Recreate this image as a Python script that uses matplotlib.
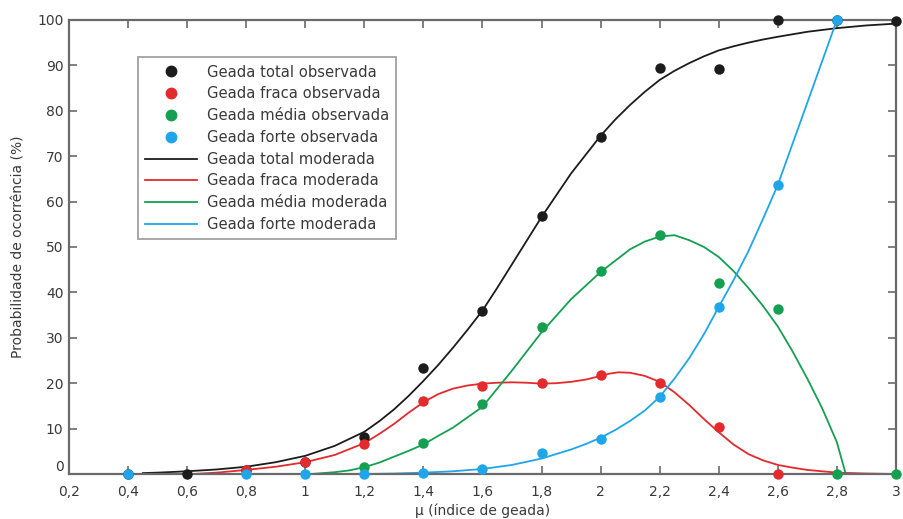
import matplotlib.pyplot as plt
from matplotlib.lines import Line2D
from matplotlib.ticker import FuncFormatter

# observed points
X_TOTAL = [0.4, 0.6, 0.8, 1.0, 1.2, 1.4, 1.6, 1.8, 2.0, 2.2, 2.4, 2.6, 2.8, 3.0]
Y_TOTAL = [0, 0, 0.9, 2.6, 8.1, 23.3, 35.9, 56.8, 74.2, 89.5, 89.3, 100, 100, 99.7]

X_FRACA = [0.8, 1.0, 1.2, 1.4, 1.6, 1.8, 2.0, 2.2, 2.4, 2.6]
Y_FRACA = [0.9, 2.6, 6.6, 16.0, 19.4, 20.0, 21.8, 20.0, 10.4, 0]

X_MEDIA = [1.2, 1.4, 1.6, 1.8, 2.0, 2.2, 2.4, 2.6, 2.8, 3.0]
Y_MEDIA = [1.5, 6.8, 15.4, 32.4, 44.7, 52.7, 42.0, 36.3, 0, 0]

X_FORTE = [0.4, 0.8, 1.0, 1.2, 1.4, 1.6, 1.8, 2.0, 2.2, 2.4, 2.6, 2.8]
Y_FORTE = [0, 0, 0, 0, 0.2, 1.1, 4.6, 7.7, 17.0, 36.8, 63.7, 100]

# fitted (modelled) curves
XC_TOTAL = [0.45, 0.5, 0.6, 0.7, 0.8, 0.9, 1.0, 1.1, 1.2, 1.25, 1.3, 1.35, 1.4, 1.45,
            1.5, 1.55, 1.6, 1.65, 1.7, 1.8, 1.9, 2.0, 2.05, 2.1, 2.15, 2.2, 2.25,
            2.3, 2.35, 2.4, 2.45, 2.5, 2.55, 2.6, 2.7, 2.8, 2.9, 3.0]
YC_TOTAL = [0.2, 0.3, 0.6, 1.0, 1.6, 2.6, 4.0, 6.2, 9.3, 11.6, 14.2, 17.2, 20.5, 24.0,
            27.8, 31.8, 36.0, 41.0, 46.2, 56.6, 66.2, 74.5, 78.1, 81.3, 84.2, 86.8, 88.8,
            90.5, 92.0, 93.3, 94.2, 95.0, 95.7, 96.3, 97.4, 98.2, 98.8, 99.2]

XC_FRACA = [0.62, 0.7, 0.8, 0.9, 1.0, 1.1, 1.2, 1.25, 1.3, 1.35, 1.4, 1.45, 1.5, 1.55,
            1.6, 1.65, 1.7, 1.75, 1.8, 1.85, 1.9, 1.95, 2.0, 2.03, 2.06, 2.1, 2.15,
            2.2, 2.25, 2.3, 2.35, 2.4, 2.45, 2.5, 2.55, 2.6, 2.65, 2.7, 2.8, 2.9, 3.0]
YC_FRACA = [0, 0.3, 0.9, 1.6, 2.6, 4.2, 6.8, 8.8, 11.0, 13.5, 15.8, 17.6, 18.8, 19.5,
            19.9, 20.1, 20.2, 20.1, 19.9, 20.0, 20.3, 20.8, 21.6, 22.1, 22.4, 22.3, 21.6,
            20.3, 18.0, 15.2, 12.1, 9.2, 6.5, 4.4, 3.0, 2.0, 1.4, 0.9, 0.3, 0.1, 0]

XC_MEDIA = [1.02, 1.1, 1.15, 1.2, 1.25, 1.3, 1.35, 1.4, 1.45, 1.5, 1.6, 1.7, 1.8, 1.9,
            2.0, 2.1, 2.15, 2.2, 2.25, 2.3, 2.35, 2.4, 2.45, 2.5, 2.55, 2.6, 2.65,
            2.7, 2.75, 2.8, 2.83]
YC_MEDIA = [0, 0.4, 0.8, 1.5, 2.5, 3.8, 5.1, 6.5, 8.4, 10.2, 14.8, 22.8, 31.2, 38.5,
            44.5, 49.5, 51.2, 52.3, 52.6, 51.5, 50.0, 47.8, 44.7, 41.0, 37.0, 32.5, 27.0,
            21.0, 14.5, 7.0, 0]

XC_FORTE = [1.2, 1.3, 1.4, 1.5, 1.6, 1.7, 1.8, 1.9, 1.95, 2.0, 2.05, 2.1, 2.15, 2.2,
            2.25, 2.3, 2.35, 2.4, 2.45, 2.5, 2.55, 2.6, 2.7, 2.8]
YC_FORTE = [0, 0.1, 0.3, 0.6, 1.1, 2.0, 3.4, 5.4, 6.6, 8.0, 9.7, 11.7, 14.0, 17.0,
            21.0, 25.5, 30.8, 36.8, 42.7, 49.0, 56.2, 63.7, 81.8, 100]

X_TICKS = [0.2, 0.4, 0.6, 0.8, 1.0, 1.2, 1.4, 1.6, 1.8, 2.0, 2.2, 2.4, 2.6, 2.8, 3.0]
Y_TICKS = [0, 10, 20, 30, 40, 50, 60, 70, 80, 90, 100]

BLACK = "#1c1c1c"
RED = "#e32a2c"
GREEN = "#14a050"
BLUE = "#1fa6ea"
FRAME = "#6a6a6a"
TEXT = "#3a3a3a"

plt.rcParams["font.family"] = ["DejaVu Sans"]

fig = plt.figure(figsize=(9.04, 5.19), dpi=100)
ax = fig.add_axes([0.0763, 0.0867, 0.9148, 0.8748])

series = [
    (XC_TOTAL, YC_TOTAL, X_TOTAL, Y_TOTAL, BLACK),
    (XC_FRACA, YC_FRACA, X_FRACA, Y_FRACA, RED),
    (XC_MEDIA, YC_MEDIA, X_MEDIA, Y_MEDIA, GREEN),
    (XC_FORTE, YC_FORTE, X_FORTE, Y_FORTE, BLUE),
]
for xc, yc, xo, yo, col in series:
    ax.plot(xc, yc, color=col, linewidth=1.3, zorder=2, clip_on=False)
for xc, yc, xo, yo, col in series:
    ax.plot(xo, yo, "o", color=col, markersize=7.5, markeredgewidth=0,
            zorder=3, clip_on=False)

ax.set_xlim(0.2, 3.0)
ax.set_ylim(0, 100)
ax.set_xticks(X_TICKS)
ax.set_yticks(Y_TICKS)


def comma_fmt(v, pos):
    s = f"{v:.1f}".rstrip("0").rstrip(".")
    return s.replace(".", ",")


ax.xaxis.set_major_formatter(FuncFormatter(comma_fmt))
ax.yaxis.set_major_formatter(FuncFormatter(lambda v, p: f"{v:.0f}"))

ax.tick_params(direction="in", length=6, width=1.2, color=FRAME,
               top=True, right=True, labelsize=10, labelcolor=TEXT)
ax.tick_params(axis="x", pad=8)
ax.tick_params(axis="y", pad=4)
for sp in ax.spines.values():
    sp.set_color(FRAME)
    sp.set_linewidth(1.6)

# the "0" sits just above the x axis, as in the original
ax.get_yticklabels()[0].set_verticalalignment("bottom")

ax.set_xlabel("µ (índice de geada)", fontsize=10, color=TEXT, labelpad=3)
ax.set_ylabel("Probabilidade de ocorrência (%)", fontsize=10, color=TEXT, labelpad=8)

handles = [
    Line2D([], [], marker="o", linestyle="none", color=BLACK, markersize=7.5),
    Line2D([], [], marker="o", linestyle="none", color=RED, markersize=7.5),
    Line2D([], [], marker="o", linestyle="none", color=GREEN, markersize=7.5),
    Line2D([], [], marker="o", linestyle="none", color=BLUE, markersize=7.5),
    Line2D([], [], color=BLACK, linewidth=1.3),
    Line2D([], [], color=RED, linewidth=1.3),
    Line2D([], [], color=GREEN, linewidth=1.3),
    Line2D([], [], color=BLUE, linewidth=1.3),
]
labels = [
    "Geada total observada",
    "Geada fraca observada",
    "Geada média observada",
    "Geada forte observada",
    "Geada total moderada",
    "Geada fraca moderada",
    "Geada média moderada",
    "Geada forte moderada",
]
leg = ax.legend(handles, labels, loc="upper left", bbox_to_anchor=(0.083, 0.918),
                fontsize=10.6, frameon=True, fancybox=False, handlelength=3.5,
                handletextpad=0.7, labelspacing=0.46, borderpad=0.5,
                borderaxespad=0)
leg.get_frame().set_edgecolor("#8a8a8a")
leg.get_frame().set_linewidth(1.3)
for t in leg.get_texts():
    t.set_color(TEXT)

fig.savefig("out.png", dpi=100)
